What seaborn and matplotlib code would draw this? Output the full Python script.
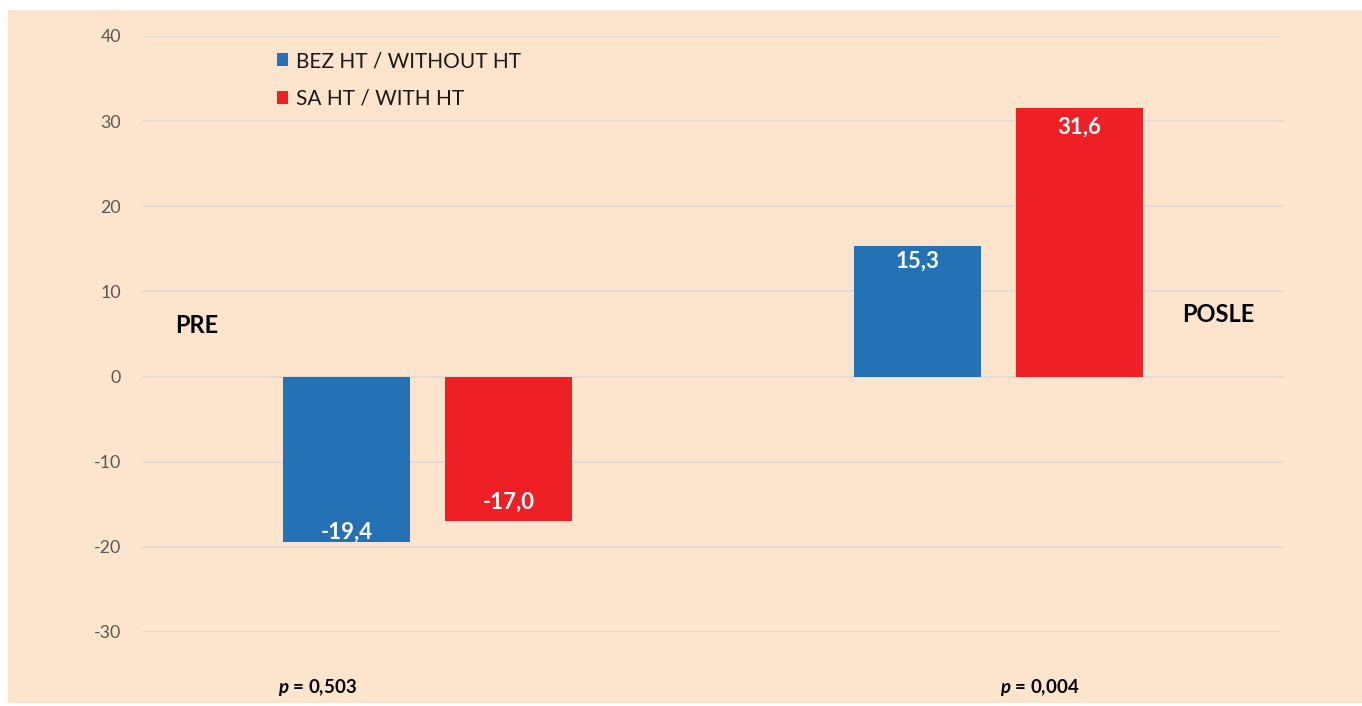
import matplotlib
matplotlib.use("Agg")
import matplotlib.pyplot as plt
import seaborn as sns
import pandas as pd
from matplotlib.patches import Rectangle

# ---- data ----
periods = ["PRE", "POSLE"]
groups = ["BEZ HT / WITHOUT HT", "SA HT / WITH HT"]
without_ht = [-19.4, 15.3]
with_ht = [-17.0, 31.6]
p_labels = ["0,503", "0,004"]
y_ticks = [-30, -20, -10, 0, 10, 20, 30, 40]

df = pd.DataFrame({
    "period": periods * 2,
    "group": [groups[0]] * 2 + [groups[1]] * 2,
    "value": without_ht + with_ht,
})

BG = "#FDE4CC"
BLUE = "#2472B5"
RED = "#EE1F25"
GRID = "#E4DCD4"
TICK = "#595959"

sns.set_theme(style="white")
plt.rcParams["font.family"] = ["Lato", "DejaVu Sans"]
plt.rcParams["mathtext.fontset"] = "custom"
plt.rcParams["mathtext.it"] = "Lato:italic:bold"
plt.rcParams["mathtext.bf"] = "Lato:bold"
plt.rcParams["mathtext.rm"] = "Lato"

fig = plt.figure(figsize=(13.62, 7.06), dpi=100)
fig.patch.set_facecolor("white")
W, H = 1362, 706
fig.patches.append(Rectangle((8 / W, 3 / H), (W - 8) / W, (H - 13) / H,
                             transform=fig.transFigure, facecolor=BG,
                             edgecolor="none", zorder=-10))

ax = fig.add_axes([142 / W, 1 - 632 / H, (1284 - 142) / W, (632 - 36) / H])
ax.set_facecolor("none")

sns.barplot(data=df, x="period", y="value", hue="group", order=periods,
            hue_order=groups, palette=[BLUE, RED], width=0.5675, gap=0.216,
            saturation=1, ax=ax, errorbar=None, zorder=3, linewidth=0)

ax.set_xlim(-0.5, 1.5)
ax.set_ylim(-30, 40)
ax.set_yticks(y_ticks)
ax.set_yticklabels([str(t) for t in y_ticks])
ax.tick_params(axis="y", length=0, pad=15, labelsize=12.8, labelcolor=TICK)
ax.tick_params(axis="x", length=0, labelbottom=False)
ax.set_xlabel("")
ax.set_ylabel("")
ax.grid(axis="y", color=GRID, linewidth=1.5, zorder=0)
ax.set_axisbelow(True)
for s in ax.spines.values():
    s.set_visible(False)

# value labels inside bars
pads = [[10, 15], [19, 20]]  # pixel offset from bar end (per group, per period)
for ci, cont in enumerate(ax.containers):
    for bi, bar in enumerate(cont):
        h = bar.get_height()
        y = bar.get_y() + h
        off = -pads[ci][bi] if h > 0 else pads[ci][bi]
        ax.annotate(f"{h:.1f}".replace(".", ","),
                    (bar.get_x() + bar.get_width() / 2, y),
                    xytext=(0, off * 0.72), textcoords="offset points",
                    ha="center", va="center", color="white",
                    fontsize=16, fontweight="bold", zorder=5)

# period labels
ax.text(-0.404, 6.0, periods[0], ha="center", va="center",
        fontsize=17, fontweight="bold", color="black")
ax.text(1.384, 7.3, periods[1], ha="center", va="center",
        fontsize=17, fontweight="bold", color="black")

# p-values
p_x = [-0.1935, 1.0727]
for px, pl in zip(p_x, p_labels):
    ax.text(px, -36.5, rf"$\it{{p}}$ = {pl}", ha="center", va="center",
            fontsize=13.5, fontweight="bold", color="black", clip_on=False)

# legend
leg = ax.legend(loc="center left", bbox_to_anchor=(277 / W, 1 - 80 / H),
                bbox_transform=fig.transFigure, frameon=False,
                fontsize=15, handlelength=0.55, handleheight=0.55,
                handletextpad=0.35, labelspacing=0.85, borderpad=0,
                borderaxespad=0)
for t in leg.get_texts():
    t.set_color("#1a1a1a")

fig.savefig("out.png", dpi=100, facecolor="white")
